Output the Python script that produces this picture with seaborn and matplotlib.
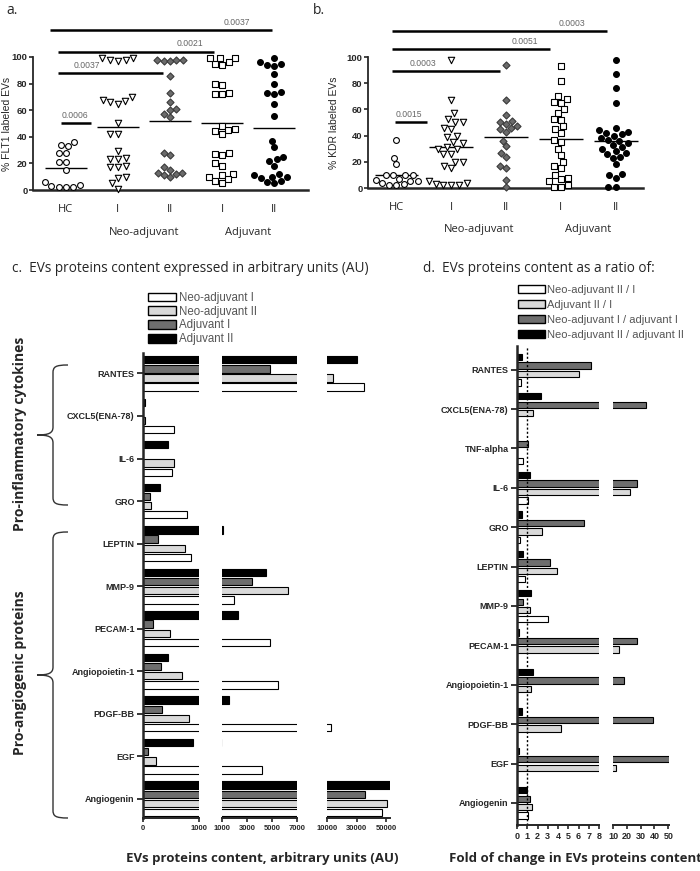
import numpy as np
import pandas as pd
import matplotlib
matplotlib.use("Agg")
import matplotlib.pyplot as plt
from matplotlib.patches import Patch, PathPatch
from matplotlib.path import Path
import seaborn as sns

sns.set_style("ticks")
plt.rcParams['font.family'] = ['Liberation Sans', 'DejaVu Sans']

W, H = 700, 871
nan = np.nan

#%% data - panels a and b (scatter, % labeled EVs)
groups = ["HC", "Neo I", "Neo II", "Adj I", "Adj II"]
group_ticks = ["HC", "I", "II", "I", "II"]

flt1_hc = [36, 34, 33, 28, 28, 21, 21, 15, 6, 4, 3, 2, 2, 2]
flt1_neo1 = [99, 99, 98, 98, 97, 70, 68, 67, 66, 65, 50, 42, 42, 29, 24, 23, 23,
             18, 17, 17, 10, 9, 5, 1]
flt1_neo2 = [98, 98, 97, 97, 98, 86, 73, 66, 61, 60, 57, 55, 28, 26, 17, 15, 13,
             13, 12, 11, 10]
flt1_adj1 = [99, 99, 99, 96, 95, 94, 80, 79, 73, 72, 72, 48, 46, 45, 44, 42, 28,
             27, 26, 20, 18, 12, 11, 10, 8, 7, 5]
flt1_adj2 = [99, 96, 95, 94, 93, 87, 80, 74, 73, 72, 65, 56, 37, 32, 25, 23, 22,
             18, 12, 11, 10, 10, 9, 7, 6, 5]

kdr_hc = [37, 23, 18, 10, 10, 10, 10, 7, 6, 5, 5, 4, 3, 2, 2]
kdr_neo1 = [98, 67, 57, 53, 50, 50, 46, 45, 40, 39, 35, 34, 31, 30, 30, 26, 26,
            20, 20, 17, 15, 5, 4, 3, 2, 2, 2]
kdr_neo2 = [94, 67, 56, 51, 50, 49, 47, 46, 45, 43, 36, 32, 27, 24, 17, 15, 6, 1]
kdr_adj1 = [93, 82, 70, 68, 66, 65, 60, 57, 53, 52, 47, 45, 42, 37, 35, 30, 25,
            20, 17, 15, 10, 8, 7, 5, 2, 1, 1]
kdr_adj2 = [98, 87, 76, 65, 46, 44, 43, 42, 41, 40, 38, 37, 36, 34, 33, 31, 30,
            28, 27, 26, 24, 23, 18, 11, 10, 8, 1, 1]

# p-value brackets: (x start, x end, y, p label, label x)
flt1_sig = [(-0.31, 3.96, 120, "0.0037", 3.29), (-0.15, 2.85, 104, "0.0021", 2.38),
            (-0.15, 1.87, 88, "0.0037", 0.4), (-0.1, 0.48, 50, "0.0006", 0.17)]
kdr_sig = [(-0.09, 3.84, 120, "0.0003", 3.2), (-0.09, 2.8, 106, "0.0051", 2.34),
           (-0.09, 1.89, 89, "0.0003", 0.48), (-0.02, 0.55, 50, "0.0015", 0.22)]

#%% data - panel c (arbitrary units)
proteins_c = ["RANTES", "CXCL5(ENA-78)", "IL-6", "GRO", "LEPTIN", "MMP-9", "PECAM-1",
              "Angiopoietin-1", "PDGF-BB", "EGF", "Angiogenin"]
neo1_au = [34700, 560, 525, 790, 860, 2000, 4800, 5450, 13000, 4200, 47300]
neo2_au = [14000, 40, 560, 150, 750, 6300, 490, 690, 820, 240, 50700]
adj1_au = [4840, nan, nan, 125, 260, 3400, 185, 320, 345, 85, 35300]
adj2_au = [30000, 30, 450, 300, 1050, 4500, 2300, 450, 1600, 885, 55000]

#%% data - panel d (fold change)
proteins_d = ["RANTES", "CXCL5(ENA-78)", "TNF-alpha", "IL-6", "GRO", "LEPTIN", "MMP-9",
              "PECAM-1", "Angiopoietin-1", "PDGF-BB", "EGF", "Angiogenin"]
neo2_over_neo1 = [0.4, nan, 0.6, 1.05, 0.25, 0.8, 3.0, nan, nan, nan, nan, 1.05]
adj2_over_adj1 = [6.0, 1.6, nan, 22.5, 2.4, 3.9, 1.3, 14, 1.4, 4.3, 12, 1.5]
neo1_over_adj1 = [7.2, 34, 1.05, 27, 6.5, 3.2, 0.6, 27, 18, 39, 52, 1.3]
neo2_over_adj2 = [0.53, 2.3, nan, 1.3, 0.5, 0.6, 1.4, 0.2, 1.6, 0.5, 0.15, 1.0]


def fbox(x0, y0, x1, y1):
    """pixel box (origin top-left) -> figure rect"""
    return [x0 / W, 1 - y1 / H, (x1 - x0) / W, (y1 - y0) / H]


def ftxt(x, y, s, **kw):
    fig.text(x / W, 1 - y / H, s, **kw)


styles = {
    "HC": dict(marker="o", color="white", edgecolor="black", size=4.2),
    "Neo I": dict(marker="v", color="white", edgecolor="black", size=4.6),
    "Neo II": dict(marker="D", color="#6b6b6b", edgecolor="#3a3a3a", size=3.6),
    "Adj I": dict(marker="s", color="white", edgecolor="black", size=4.2),
    "Adj II": dict(marker="o", color="black", edgecolor="black", size=4.2),
}


def scatter_panel(ax, data, ylabel, sig, xlim, ylab_x):
    rows = [(g, v) for g, vals in zip(groups, data) for v in vals]
    df = pd.DataFrame(rows, columns=["group", "value"])
    for g in groups:
        sns.swarmplot(data=df[df["group"] == g], x="group", y="value", order=groups,
                      linewidth=0.8, ax=ax, **styles[g])
    for c in ax.collections:
        c.set_clip_on(False)
    means = [np.mean(v) for v in data]
    ax.hlines(means, np.arange(5) - 0.4, np.arange(5) + 0.4, color="black", lw=1)
    ax.set_ylim(0, 100)
    ax.set_xlim(*xlim)
    ax.set_yticks(np.arange(0, 101, 20))
    ax.tick_params(axis="y", labelsize=6.8, length=3, width=1.2, pad=1)
    for t in ax.get_yticklabels():
        t.set_fontweight("bold")
    ax.set_xticks(range(5))
    ax.set_xticklabels(group_ticks, fontsize=8, family="Open Sans")
    ax.tick_params(axis="x", length=0, pad=10)
    ax.set_xlabel("")
    ax.set_ylabel(ylabel, fontsize=7.5)
    ax.yaxis.set_label_coords(ylab_x, 0.5)
    sns.despine(ax=ax)
    ax.spines["left"].set_linewidth(1.3)
    ax.spines["bottom"].set_linewidth(1.8)
    trans = ax.get_xaxis_transform()
    ax.text(1.5, -0.32, "Neo-adjuvant", transform=trans, ha="center", va="center",
            fontsize=8, family="Open Sans")
    ax.text(3.5, -0.32, "Adjuvant", transform=trans, ha="center", va="center",
            fontsize=8, family="Open Sans")
    for x0, x1, y, lab, xt in sig:
        ax.plot([x0, x1], [y, y], color="black", lw=1.8, clip_on=False,
                solid_capstyle="butt")
        ax.text(xt, y + 2.5, lab, ha="center", va="bottom", fontsize=6.2,
                color="#666666")


def brace(x_right, x_mid, x_tip, y1, y2, ym):
    r = 8
    pts = [(x_right, y1), (x_mid + 2, y1), (x_mid, y1 + 2), (x_mid, y1 + r),
           (x_mid, ym - r),
           (x_mid, ym - 2), (x_mid - 4, ym), (x_tip, ym),
           (x_mid - 4, ym), (x_mid, ym + 2), (x_mid, ym + r),
           (x_mid, y2 - r),
           (x_mid, y2 - 2), (x_mid + 2, y2), (x_right, y2)]
    codes = [Path.MOVETO, Path.CURVE4, Path.CURVE4, Path.CURVE4,
             Path.LINETO,
             Path.CURVE4, Path.CURVE4, Path.CURVE4,
             Path.CURVE4, Path.CURVE4, Path.CURVE4,
             Path.LINETO,
             Path.CURVE4, Path.CURVE4, Path.CURVE4]
    verts = [(x / W, 1 - y / H) for x, y in pts]
    fig.add_artist(PathPatch(Path(verts, codes), transform=fig.transFigure,
                             facecolor="none", edgecolor="#333333", lw=1.0))


def broken_bars(df, order, hue_order, palette, segs, ytop, ybot, ylim, gap):
    axes = []
    for i, (lo, hi, ticks, tlabels, x0, x1) in enumerate(segs):
        ax = fig.add_axes(fbox(x0, ytop, x1, ybot))
        sns.barplot(data=df, y="protein", x="value", hue="group", order=order,
                    hue_order=hue_order, palette=palette, orient="h", width=0.86,
                    gap=gap, edgecolor="black", linewidth=0.8, errorbar=None,
                    legend=False, ax=ax)
        ax.set_xlim(lo, hi)
        ax.set_ylim(*ylim)
        ax.set_xticks(ticks)
        ax.set_xticklabels(tlabels, fontsize=5.5, fontweight="bold")
        ax.tick_params(axis="x", length=3, width=1.2, pad=2)
        ax.set_xlabel("")
        ax.set_ylabel("")
        ax.set_facecolor("none")
        sns.despine(ax=ax, left=(i > 0))
        ax.spines["bottom"].set_linewidth(1.4)
        ax.spines["left"].set_linewidth(1.8)
        if i > 0:
            ax.set_yticks([])
        else:
            ax.tick_params(axis="y", length=4, width=1.3, pad=2)
            for t in ax.get_yticklabels():
                t.set_fontsize(6.5)
                t.set_fontweight("bold")
        axes.append(ax)
    return axes


fig = plt.figure(figsize=(7, 8.71), dpi=100)

#%% panel a
ax_a = fig.add_axes(fbox(33, 57, 308, 190))
scatter_panel(ax_a, [flt1_hc, flt1_neo1, flt1_neo2, flt1_adj1, flt1_adj2],
              "% FLT1 labeled EVs", flt1_sig, (-0.63, 4.65), -0.078)
ftxt(6, 10, "a.", fontsize=10, family="Open Sans", va="center")

#%% panel b
ax_b = fig.add_axes(fbox(368, 57, 643, 188))
scatter_panel(ax_b, [kdr_hc, kdr_neo1, kdr_neo2, kdr_adj1, kdr_adj2],
              "% KDR labeled EVs", kdr_sig, (-0.52, 4.5), -0.105)
ftxt(313, 10, "b.", fontsize=10, family="Open Sans", va="center")

#%% panel c
order_c = ["Adjuvant II", "Adjuvant I", "Neo-adjuvant II", "Neo-adjuvant I"]
pal_c = {"Adjuvant II": "black", "Adjuvant I": "#6e6e6e",
         "Neo-adjuvant II": "#d9d9d9", "Neo-adjuvant I": "white"}
df_c = pd.DataFrame({"protein": proteins_c, "Neo-adjuvant I": neo1_au,
                     "Neo-adjuvant II": neo2_au, "Adjuvant I": adj1_au,
                     "Adjuvant II": adj2_au})
df_c = df_c.melt(id_vars="protein", var_name="group", value_name="value")
segs_c = [(0, 1000, [0, 1000], ["0", "1000"], 143, 199),
          (1000, 7000, [1000, 3000, 5000, 7000], ["1000", "3000", "5000", "7000"], 222, 297),
          (10000, 52500, [10000, 30000, 50000], ["10000", "30000", "50000"], 327, 390)]
broken_bars(df_c, proteins_c, order_c, pal_c, segs_c, 353, 818, (10.45, -0.48), 0.2)

ftxt(12, 268, "c.  EVs proteins content expressed in arbitrary units (AU)",
     fontsize=9.8, family="Open Sans", va="center")
fig.legend(handles=[Patch(facecolor=pal_c[k], edgecolor="black", label=k)
                    for k in order_c[::-1]],
           loc="upper left", bbox_to_anchor=(148 / W, 1 - 292 / H), frameon=False,
           fontsize=8.3, handlelength=2.4, handleheight=0.8, labelspacing=0.15,
           handletextpad=0.25, borderaxespad=0, borderpad=0, labelcolor="#555555")
ftxt(262, 858, "EVs proteins content, arbitrary units (AU)", fontsize=9.5,
     fontweight="bold", family="Open Sans", ha="center", va="center")

brace(68, 53, 37, 365, 505, 435)
brace(68, 53, 37, 532, 818, 675)
ftxt(20, 434, "Pro-inflammatory cytokines", rotation=90, fontsize=10,
     fontweight="bold", family="Open Sans", ha="center", va="center")
ftxt(20, 673, "Pro-angiogenic proteins", rotation=90, fontsize=10,
     fontweight="bold", family="Open Sans", ha="center", va="center")

#%% panel d
order_d = ["Neo-adjuvant II / adjuvant II", "Neo-adjuvant I / adjuvant I",
           "Adjuvant II / I", "Neo-adjuvant II / I"]
pal_d = {"Neo-adjuvant II / adjuvant II": "black",
         "Neo-adjuvant I / adjuvant I": "#6e6e6e",
         "Adjuvant II / I": "#d9d9d9", "Neo-adjuvant II / I": "white"}
df_d = pd.DataFrame({"protein": proteins_d, "Neo-adjuvant II / I": neo2_over_neo1,
                     "Adjuvant II / I": adj2_over_adj1,
                     "Neo-adjuvant I / adjuvant I": neo1_over_adj1,
                     "Neo-adjuvant II / adjuvant II": neo2_over_adj2})
df_d = df_d.melt(id_vars="protein", var_name="group", value_name="value")
segs_d = [(0, 8, list(range(9)), [str(i) for i in range(9)], 517, 599),
          (10, 50.5, [10, 20, 30, 40, 50], ["10", "20", "30", "40", "50"], 613, 669)]
axes_d = broken_bars(df_d, proteins_d, order_d, pal_d, segs_d, 346, 825,
                     (11.56, -0.6), 0.25)
axes_d[0].axvline(1, color="black", ls=(0, (1.5, 1.5)), lw=1)
for ax in axes_d:
    ax.tick_params(axis="x", labelsize=6.5)

ftxt(423, 268, "d.  EVs proteins content as a ratio of:", fontsize=9.8,
     family="Open Sans", va="center")
fig.legend(handles=[Patch(facecolor=pal_d[k], edgecolor="black", label=k)
                    for k in order_d[::-1]],
           loc="upper left", bbox_to_anchor=(518 / W, 1 - 285 / H), frameon=False,
           fontsize=8, handlelength=2.4, handleheight=0.7, labelspacing=0.45,
           handletextpad=0.25, borderaxespad=0, borderpad=0, labelcolor="#555555")
ftxt(575, 858, "Fold of change in EVs proteins content", fontsize=9.5,
     fontweight="bold", family="Open Sans", ha="center", va="center")

fig.savefig("out.png", dpi=100)
